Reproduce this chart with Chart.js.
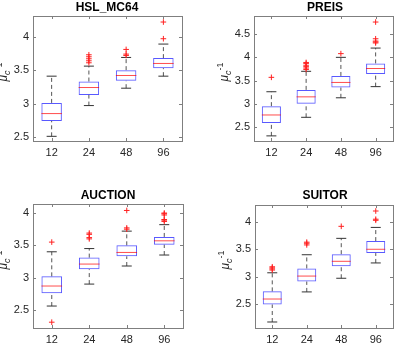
<!DOCTYPE html>
<html>
<head>
<meta charset="utf-8">
<script src="https://cdn.jsdelivr.net/npm/chart.js@4.4.0/dist/chart.umd.min.js"></script>
<style>
  body { margin: 0; background: #fff; }
  #wrap { position: relative; width: 399px; height: 344px; overflow: hidden; font-family: "Liberation Sans", Arial, sans-serif; }
  canvas { position: absolute; }
  .title { position: absolute; font-weight: bold; font-size: 12px; line-height: 14px; color: #000; transform: translateX(-50%); white-space: nowrap; }
  .ylab { position: absolute; font-size: 12px; color: #262626; white-space: nowrap; transform: translate(-50%, -50%) rotate(-90deg); }
  .ylab sub, .ylab sup { font-size: 9px; }
</style>
</head>
<body>
<div id="wrap">
  <canvas id="c1" width="200" height="165" style="left:0;top:0"></canvas>
  <canvas id="c2" width="199" height="165" style="left:200px;top:0"></canvas>
  <canvas id="c3" width="200" height="172" style="left:0;top:172px"></canvas>
  <canvas id="c4" width="199" height="172" style="left:200px;top:172px"></canvas>

  <div class="title" style="left:107px;top:0px">HSL_MC64</div>
  <div class="title" style="left:325px;top:0px">PREIS</div>
  <div class="title" style="left:108px;top:188px">AUCTION</div>
  <div class="title" style="left:325px;top:188px">SUITOR</div>

  <div class="ylab" style="left:3px;top:72px"><i>μ</i><sub><i>c</i></sub><sup>-1</sup></div>
  <div class="ylab" style="left:224px;top:72px"><i>μ</i><sub><i>c</i></sub><sup>-1</sup></div>
  <div class="ylab" style="left:3px;top:260px"><i>μ</i><sub><i>c</i></sub><sup>-1</sup></div>
  <div class="ylab" style="left:225px;top:260px"><i>μ</i><sub><i>c</i></sub><sup>-1</sup></div>
</div>
<script>
const categories = ["12", "24", "48", "96"];

// HSL_MC64
const hslLow = [2.51, 2.97, 3.23, 3.41];
const hslQ1 = [2.74, 3.13, 3.34, 3.53];
const hslMed = [2.85, 3.24, 3.42, 3.60];
const hslQ3 = [3.01, 3.33, 3.50, 3.68];
const hslHigh = [3.41, 3.56, 3.69, 3.89];
const hslOut = [[], [3.61, 3.64, 3.67, 3.70, 3.73], [3.72, 3.74, 3.81], [3.97, 4.22]];
const hslTicks = [2.5, 3, 3.5, 4];
const hslLim = [2.44, 4.31];

// PREIS
const preisLow = [2.31, 2.71, 3.13, 3.37];
const preisQ1 = [2.59, 3.00, 3.35, 3.64];
const preisMed = [2.76, 3.15, 3.46, 3.76];
const preisQ3 = [2.95, 3.30, 3.60, 3.87];
const preisHigh = [3.26, 3.70, 4.00, 4.20];
const preisOut = [[3.57], [3.74, 3.77, 3.80, 3.83, 3.87, 3.89], [4.08], [4.31, 4.33, 4.35, 4.40, 4.76]];
const preisTicks = [2.5, 3, 3.5, 4, 4.5];
const preisLim = [2.2, 4.89];

// AUCTION
const aucLow = [2.56, 2.90, 3.18, 3.35];
const aucQ1 = [2.76, 3.13, 3.33, 3.51];
const aucMed = [2.87, 3.21, 3.39, 3.57];
const aucQ3 = [3.02, 3.31, 3.50, 3.63];
const aucHigh = [3.40, 3.45, 3.72, 3.82];
const aucOut = [[2.31, 3.55], [3.60, 3.62, 3.67, 3.69], [3.75, 3.77, 4.04], [3.87, 3.89, 3.90, 3.97, 3.99, 4.00]];
const aucTicks = [2.5, 3, 3.5, 4];
const aucLim = [2.22, 4.14];

// SUITOR
const suitLow = [2.17, 2.72, 2.97, 3.25];
const suitQ1 = [2.49, 2.91, 3.19, 3.43];
const suitMed = [2.59, 3.01, 3.28, 3.50];
const suitQ3 = [2.73, 3.15, 3.41, 3.65];
const suitHigh = [3.07, 3.40, 3.70, 3.90];
const suitOut = [[3.12, 3.14, 3.16, 3.18], [3.58, 3.61, 3.63], [3.92], [4.03, 4.05, 4.20]];
const suitTicks = [2.5, 3, 3.5, 4];
const suitLim = [2.06, 4.31];

const BOX_FRAC = 0.55;
const axisGray = "#7f7f7f";

// box frame + inward tick marks like matlab
const framePlugin = {
  id: "frame",
  afterDatasetsDraw(chart) {
    let ctx = chart.ctx;
    let a = chart.chartArea;
    let xs = chart.scales.x, ys = chart.scales.y;
    ctx.save();
    ctx.strokeStyle = axisGray;
    ctx.lineWidth = 1;
    ctx.strokeRect(Math.round(a.left) + 0.5, Math.round(a.top) + 0.5, Math.round(a.right - a.left), Math.round(a.bottom - a.top));
    ctx.beginPath();
    ys.ticks.forEach((t) => {
      let y = Math.round(ys.getPixelForValue(t.value)) + 0.5;
      ctx.moveTo(a.left, y); ctx.lineTo(a.left + 3, y);
      ctx.moveTo(a.right, y); ctx.lineTo(a.right - 3, y);
    });
    categories.forEach((c, i) => {
      let x = Math.round(xs.getPixelForValue(i)) + 0.5;
      ctx.moveTo(x, a.bottom); ctx.lineTo(x, a.bottom - 3);
      ctx.moveTo(x, a.top); ctx.lineTo(x, a.top + 3);
    });
    ctx.stroke();
    ctx.restore();
  },
};

function whiskerPoints(low, q1, q3, high) {
  let pts = [];
  categories.forEach((c, i) => {
    pts.push({ x: c, y: q3[i] }, { x: c, y: high[i] }, { x: c, y: null });
    pts.push({ x: c, y: low[i] }, { x: c, y: q1[i] }, { x: c, y: null });
  });
  return pts;
}

function outlierPoints(out) {
  let pts = [];
  out.forEach((vals, i) => vals.forEach((v) => pts.push({ x: categories[i], y: v })));
  return pts;
}

function halfBox(ctx) {
  return (ctx.chart.scales.x.width / categories.length) * BOX_FRAC / 2;
}

function makeBoxPlot(id, p) {
  let tickFont = { family: "'Liberation Sans', Arial, sans-serif", size: 11 };
  new Chart(document.getElementById(id), {
    type: "bar",
    data: {
      labels: categories,
      datasets: [
        {
          type: "line",
          data: outlierPoints(p.out),
          showLine: false,
          pointStyle: "cross",
          pointRadius: 2.8,
          pointBorderColor: "#ff2020",
          pointBorderWidth: 1,
          order: 1,
        },
        {
          type: "line",
          data: p.med,
          showLine: false,
          pointStyle: "line",
          pointRadius: halfBox,
          pointBorderColor: "rgba(255,0,0,0.7)",
          pointBorderWidth: 1,
          order: 2,
        },
        {
          type: "line",
          data: p.low.concat([]),
          showLine: false,
          pointStyle: "line",
          pointRadius: 5,
          pointBorderColor: "#333",
          pointBorderWidth: 1,
          order: 3,
        },
        {
          type: "line",
          data: p.high,
          showLine: false,
          pointStyle: "line",
          pointRadius: 5,
          pointBorderColor: "#333",
          pointBorderWidth: 1,
          order: 3,
        },
        {
          type: "bar",
          data: p.q1.map((v, i) => [v, p.q3[i]]),
          backgroundColor: "rgba(255,255,255,0)",
          borderColor: "rgba(0,0,255,0.65)",
          borderWidth: 1,
          borderSkipped: false,
          barPercentage: BOX_FRAC,
          categoryPercentage: 1,
          order: 4,
        },
        {
          type: "line",
          data: whiskerPoints(p.low, p.q1, p.q3, p.high),
          borderColor: "#555",
          borderWidth: 1,
          borderDash: [4, 3],
          pointRadius: 0,
          spanGaps: false,
          order: 5,
        },
      ],
    },
    options: {
      responsive: false,
      animation: false,
      devicePixelRatio: 1,
      layout: { padding: { top: p.padTop, right: p.padRight, left: 0, bottom: 0 } },
      plugins: { legend: { display: false }, tooltip: { enabled: false } },
      scales: {
        x: {
          type: "category",
          offset: true,
          grid: { display: false, drawTicks: false },
          border: { display: false },
          ticks: { font: tickFont, color: "#262626", padding: 5 },
          afterFit: (s) => { s.height = p.xh; },
        },
        y: {
          min: p.lim[0],
          max: p.lim[1],
          grid: { display: false, drawTicks: false },
          border: { display: false },
          ticks: { font: tickFont, color: "#262626", padding: 4, callback: (v) => String(v) },
          afterBuildTicks: (s) => { s.ticks = p.ticks.map((v) => ({ value: v })); },
          afterFit: (s) => { s.width = p.yw; },
        },
      },
    },
    plugins: [framePlugin],
  });
}

makeBoxPlot("c1", { low: hslLow, q1: hslQ1, med: hslMed, q3: hslQ3, high: hslHigh, out: hslOut, ticks: hslTicks, lim: hslLim, padTop: 16, padRight: 18, yw: 33, xh: 24 });
makeBoxPlot("c2", { low: preisLow, q1: preisQ1, med: preisMed, q3: preisQ3, high: preisHigh, out: preisOut, ticks: preisTicks, lim: preisLim, padTop: 16, padRight: 3, yw: 54, xh: 24 });
makeBoxPlot("c3", { low: aucLow, q1: aucQ1, med: aucMed, q3: aucQ3, high: aucHigh, out: aucOut, ticks: aucTicks, lim: aucLim, padTop: 32, padRight: 17, yw: 33, xh: 16 });
makeBoxPlot("c4", { low: suitLow, q1: suitQ1, med: suitMed, q3: suitQ3, high: suitHigh, out: suitOut, ticks: suitTicks, lim: suitLim, padTop: 33, padRight: 3, yw: 55, xh: 16 });
</script>
</body>
</html>
